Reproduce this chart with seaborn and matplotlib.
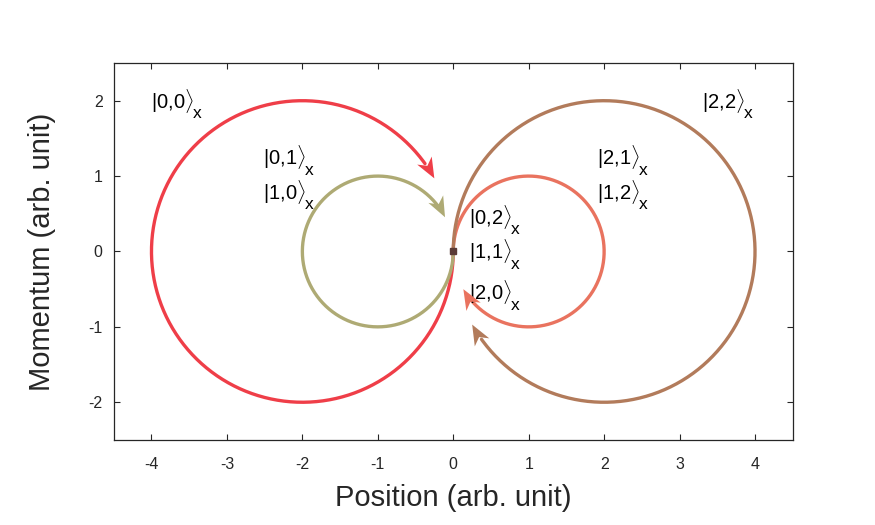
import numpy as np
import pandas as pd
import matplotlib
matplotlib.use("Agg")
import matplotlib.pyplot as plt
import seaborn as sns

# --- dados: quatro trajetorias circulares no espaco de fase ---
center_x = [-2.0, -1.0, 1.0, 2.0]
radius = [2.0, 1.0, 1.0, 2.0]
start_deg = [0.0, 0.0, 180.0, 180.0]
end_deg = [-331.0, -333.0, -150.0, -151.0]   # sentido horario
colors = ["#EF3E48", "#AEAA74", "#E9735F", "#B27B5B"]

ket_labels = [r"$|0{,}0\rangle$", r"$|0{,}1\rangle$", r"$|1{,}0\rangle$",
              r"$|2{,}2\rangle$", r"$|2{,}1\rangle$", r"$|1{,}2\rangle$",
              r"$|0{,}2\rangle$", r"$|1{,}1\rangle$", r"$|2{,}0\rangle$"]
ket_sub = "x"
label_x = [-4.0, -2.52, -2.52, 3.30, 1.91, 1.91, 0.21, 0.21, 0.21]
label_y = [2.0, 1.25, 0.79, 2.0, 1.25, 0.79, 0.46, 0.0, -0.54]

x_ticks = [-4, -3, -2, -1, 0, 1, 2, 3, 4]
y_ticks = [-2, -1, 0, 1, 2]

sns.set_theme(style="ticks")
plt.rcParams["font.family"] = ["Liberation Sans", "DejaVu Sans"]
plt.rcParams["mathtext.fontset"] = "custom"
plt.rcParams["mathtext.rm"] = "Liberation Sans"
plt.rcParams["mathtext.it"] = "Liberation Sans:italic"
plt.rcParams["axes.unicode_minus"] = False


def arrow_head(ax, tip, direction, color, length=0.27, half_width=0.11, notch=0.08):
    """Desenha uma ponta de seta com entalhe (estilo MATLAB)."""
    d = np.asarray(direction) / np.linalg.norm(direction)
    n = np.array([-d[1], d[0]])
    tip = np.asarray(tip)
    back = tip - d * length
    pts = [tip, back + n * half_width, tip - d * (length - notch), back - n * half_width]
    ax.add_patch(plt.Polygon(pts, closed=True, color=color, lw=0, zorder=4))


fig = plt.figure(figsize=(8.75, 5.25), dpi=100)
ax = fig.add_axes([0.130, 0.162, 0.776, 0.718])

for cx, r, a0, a1, c in zip(center_x, radius, start_deg, end_deg, colors):
    theta = np.deg2rad(np.linspace(a0, a1, 400))
    df = pd.DataFrame({"x": cx + r * np.cos(theta), "y": r * np.sin(theta)})
    # termina a linha um pouco antes da ponta para nao sobressair
    sns.lineplot(data=df.iloc[:-8], x="x", y="y", sort=False, estimator=None,
                 color=c, lw=2.4, ax=ax, zorder=3)
    t_end = theta[-1]
    tip = (cx + r * np.cos(t_end), r * np.sin(t_end))
    direction = (np.sin(t_end), -np.cos(t_end))
    arrow_head(ax, tip, direction, c)

ax.plot([0], [0], "s", color="#5B3B36", ms=4, zorder=5)

ax.set_xlim(-4.5, 4.5)
ax.set_ylim(-2.5, 2.5)

renderer = fig.canvas.get_renderer()
for txt, lx, ly in zip(ket_labels, label_x, label_y):
    t = ax.text(lx, ly, txt, fontsize=14.5, ha="left", va="center", color="black")
    bb = t.get_window_extent(renderer)
    # subscrito "x" mais baixo, como no original
    ax.annotate(ket_sub, xy=(bb.x1 - 1, bb.y0 + 1), xycoords="figure pixels",
                fontsize=12.5, ha="left", va="center", color="black")

ax.set_xticks(x_ticks)
ax.set_yticks(y_ticks)
ax.tick_params(direction="in", top=True, right=True, length=4, width=0.8,
               labelsize=11.5, colors="#262626")
ax.tick_params(axis="x", pad=12)
ax.tick_params(axis="y", pad=8)
for s in ax.spines.values():
    s.set_color("#262626")
    s.set_linewidth(0.9)
ax.set_xlabel("Position (arb. unit)", fontsize=21, color="#262626", labelpad=9)
ax.set_ylabel("Momentum (arb. unit)", fontsize=21, color="#262626", labelpad=23)

fig.savefig("out.png", dpi=100)
